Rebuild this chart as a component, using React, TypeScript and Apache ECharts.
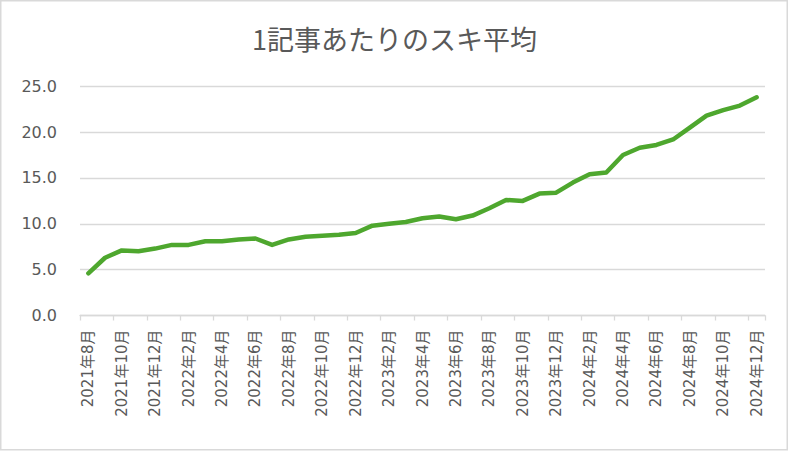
import React, { useEffect, useRef } from "react";
import * as echarts from "echarts";

const titleText = "1記事あたりのスキ平均";

const categories = [
  "2021年8月", "2021年9月", "2021年10月", "2021年11月", "2021年12月",
  "2022年1月", "2022年2月", "2022年3月", "2022年4月", "2022年5月", "2022年6月",
  "2022年7月", "2022年8月", "2022年9月", "2022年10月", "2022年11月", "2022年12月",
  "2023年1月", "2023年2月", "2023年3月", "2023年4月", "2023年5月", "2023年6月",
  "2023年7月", "2023年8月", "2023年9月", "2023年10月", "2023年11月", "2023年12月",
  "2024年1月", "2024年2月", "2024年3月", "2024年4月", "2024年5月", "2024年6月",
  "2024年7月", "2024年8月", "2024年9月", "2024年10月", "2024年11月", "2024年12月",
];

const avgLikes = [
  4.6, 6.3, 7.1, 7.0, 7.3, 7.7, 7.7, 8.1, 8.1, 8.3, 8.4,
  7.7, 8.3, 8.6, 8.7, 8.8, 9.0, 9.8, 10.0, 10.2, 10.6, 10.8,
  10.5, 10.9, 11.7, 12.6, 12.5, 13.3, 13.4, 14.5, 15.4, 15.6,
  17.5, 18.3, 18.6, 19.2, 20.5, 21.8, 22.4, 22.9, 23.8,
];

const yMin = 0;
const yMax = 25;
const yStep = 5;

const FONT = "'Noto Sans CJK JP', 'Noto Sans', sans-serif";
const AXIS_FONT = "'DejaVu Sans', 'Noto Sans CJK JP', sans-serif";
const TEXT_COLOR = "#595959";
const GRID_COLOR = "#d9d9d9";

export default function App() {
  const ref = useRef<HTMLDivElement>(null);

  useEffect(() => {
    document.body.style.margin = "0";
    if (!ref.current) return;
    const chart = echarts.init(ref.current, null, { renderer: "svg" });
    chart.setOption({
      animation: false,
      backgroundColor: "#ffffff",
      textStyle: { fontFamily: FONT },
      graphic: [
        {
          type: "rect",
          silent: true,
          z: -10,
          shape: { x: 0.75, y: 0.75, width: 786.5, height: 449 },
          style: { fill: "none", stroke: GRID_COLOR, lineWidth: 1.5 },
        },
      ],
      title: {
        text: titleText,
        left: "center",
        top: 20,
        textStyle: {
          fontFamily: FONT,
          fontSize: 27,
          fontWeight: "normal",
          color: TEXT_COLOR,
        },
      },
      grid: { left: 80, right: 24, top: 86.3, bottom: 136.5, containLabel: false },
      xAxis: {
        type: "category",
        data: categories,
        boundaryGap: true,
        axisLine: { show: true, lineStyle: { color: GRID_COLOR, width: 1.3 } },
        axisTick: {
          show: true,
          interval: 1,
          alignWithLabel: false,
          length: 5,
          lineStyle: { color: GRID_COLOR, width: 1.3 },
        },
        axisLabel: {
          interval: 1,
          rotate: 90,
          margin: 14,
          fontSize: 15,
          fontFamily: AXIS_FONT,
          color: TEXT_COLOR,
        },
      },
      yAxis: {
        type: "value",
        min: yMin,
        max: yMax,
        interval: yStep,
        axisLine: { show: false },
        axisTick: { show: false },
        splitLine: { lineStyle: { color: GRID_COLOR, width: 1.3 } },
        axisLabel: {
          margin: 23,
          fontSize: 16,
          fontFamily: AXIS_FONT,
          color: TEXT_COLOR,
          formatter: (v: number) => v.toFixed(1),
        },
      },
      series: [
        {
          type: "line",
          data: avgLikes,
          symbol: "none",
          smooth: false,
          lineStyle: { color: "#4ea72e", width: 4.5, cap: "round", join: "round" },
          itemStyle: { color: "#4ea72e" },
        },
      ],
    });
    return () => chart.dispose();
  }, []);

  return <div ref={ref} style={{ width: 789, height: 452 }} />;
}
